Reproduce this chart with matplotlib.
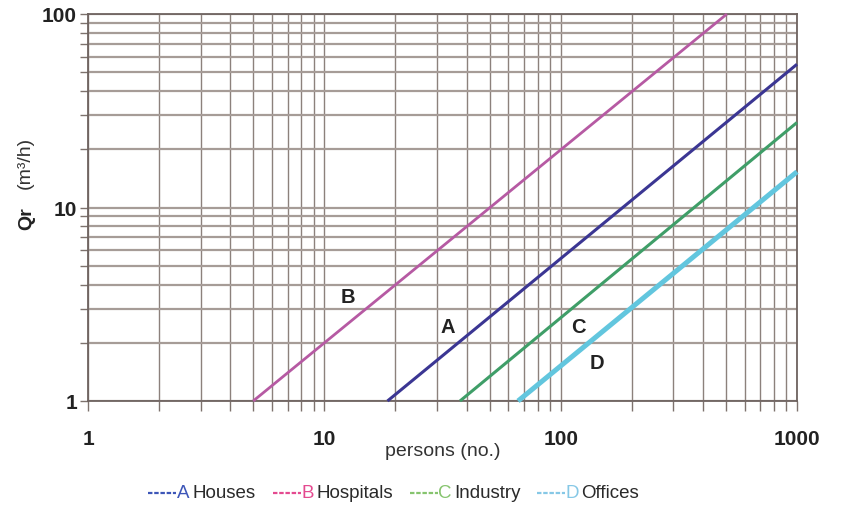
import matplotlib
matplotlib.use("Agg")
import matplotlib.pyplot as plt
import numpy as np
from matplotlib.lines import Line2D
from matplotlib.ticker import LogLocator, FixedLocator, NullFormatter

# ---- data ----
series_letters = ["A", "B", "C", "D"]
series_names = ["Houses", "Hospitals", "Industry", "Offices"]
# persons where each line starts (Qr = 1) and persons / Qr at end
persons_start = [18.5, 5.0, 37.5, 66.0]
persons_end = [1000.0, 505.0, 1000.0, 1000.0]
qr_start = [1.0, 1.0, 1.0, 1.0]
qr_end = [55.0, 100.0, 27.5, 15.3]
label_persons = [33.4, 12.6, 118.5, 142.6]
label_qr = [2.44, 3.45, 2.44, 1.59]
x_ticks = [1, 10, 100, 1000]
x_ticklabels = ["1", "10", "100", "1000"]
y_ticks = [1, 10, 100]
y_ticklabels = ["1", "10", "100"]

line_colors = ["#3b3693", "#b65aa3", "#3f9e68", "#62c6de"]
line_widths = [2.2, 2.0, 2.2, 3.6]
legend_colors = ["#3d56b8", "#e44a90", "#86c46e", "#86c8e6"]

FONT = ["Liberation Sans", "DejaVu Sans"]
plt.rcParams["font.family"] = FONT

fig = plt.figure(figsize=(8.42, 5.10), dpi=100)
ax = fig.add_axes([88 / 842, 1 - 402 / 510, (797 - 88) / 842, (402 - 15) / 510])
ax.set_xscale("log")
ax.set_yscale("log")
ax.set_xlim(1, 1000)
ax.set_ylim(1, 100)

# grid
ax.xaxis.set_minor_locator(LogLocator(base=10, subs=np.arange(2, 10)))
ax.yaxis.set_minor_locator(LogLocator(base=10, subs=np.arange(2, 10)))
ax.xaxis.set_minor_formatter(NullFormatter())
ax.yaxis.set_minor_formatter(NullFormatter())
ax.xaxis.grid(True, which="both", color="#8c817c", lw=1.0)
ax.yaxis.grid(True, which="both", color="#a69c97", lw=1.6)
ax.set_axisbelow(True)

for i in range(4):
    ax.plot([persons_start[i], persons_end[i]], [qr_start[i], qr_end[i]],
            color=line_colors[i], lw=line_widths[i], solid_capstyle="butt",
            zorder=3, clip_on=False)
    ax.text(label_persons[i], label_qr[i], series_letters[i], fontsize=14.5,
            fontweight="bold", ha="center", va="center", color="#222222",
            zorder=4)

ax.xaxis.set_major_locator(FixedLocator(x_ticks))
ax.yaxis.set_major_locator(FixedLocator(y_ticks))
ax.set_xticklabels(x_ticklabels, fontsize=15, fontweight="bold", color="#222222")
ax.set_yticklabels(y_ticklabels, fontsize=15, fontweight="bold", color="#222222")
ax.tick_params(axis="both", which="both", direction="out", color="#7d726d",
               width=1.0)
ax.tick_params(axis="x", which="both", length=7, pad=13)
ax.tick_params(axis="y", which="both", length=6, pad=2)

for s in ax.spines.values():
    s.set_color("#6e6360")
    s.set_linewidth(1.3)

ax.set_xlabel("persons (no.)", fontsize=14, color="#333333", labelpad=-4)

# y label: bold "Qr" + normal "(m³/h)"
fig.text(27 / 842, 1 - 219 / 510, "Qr", rotation=90, fontsize=14,
         fontweight="bold", ha="center", va="center", color="#222222")
fig.text(25 / 842, 1 - 163 / 510, "(m³/h)", rotation=90, fontsize=14,
         ha="center", va="center", color="#333333")

# legend below the chart
leg_y = 1 - 494 / 510
line_x0 = [148, 273, 410, 537]
for i in range(4):
    x0 = line_x0[i] / 842
    x1 = (line_x0[i] + 28) / 842
    fig.add_artist(Line2D([x0, x1], [leg_y, leg_y], transform=fig.transFigure,
                          color=legend_colors[i], lw=1.6, ls=(0, (2, 0.8))))
    fig.text(x1 + 0.5 / 842, leg_y, series_letters[i], fontsize=13.5,
             color=legend_colors[i], ha="left", va="center")
    fig.text(x1 + 16 / 842, leg_y, series_names[i], fontsize=13.5,
             color="#2a2a2a", ha="left", va="center")

fig.savefig("out.png", dpi=100)
